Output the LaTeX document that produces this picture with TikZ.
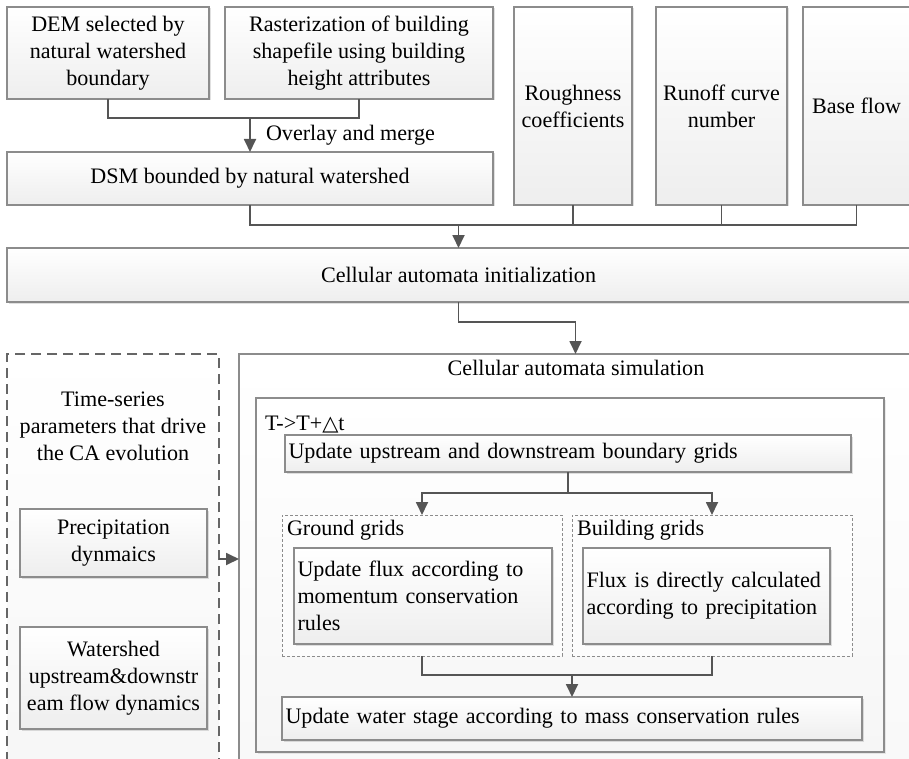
\documentclass[tikz,border=0pt]{standalone}
\usepackage{fontspec}
\setmainfont{Liberation Serif}
\newfontfamily\symfont{DejaVu Sans}
\usetikzlibrary{arrows.meta,shadows}
\definecolor{bordercol}{HTML}{8C8C8C}
\definecolor{linecol}{HTML}{555555}
\definecolor{boxbot}{HTML}{EEEEEE}
\definecolor{dashcol}{HTML}{666666}
\tikzset{
  basebox/.style={draw=bordercol, line width=1.1pt, top color=white, bottom color=boxbot,
    anchor=north west, outer sep=0pt, inner sep=0pt},
  solidbox/.style={basebox, drop shadow={shadow xshift=1.5pt, shadow yshift=-1.5pt, opacity=0.12, fill=black}},
  leftbox/.style={solidbox, align=left, inner xsep=3.5pt},
  bigdash/.style={draw=dashcol, line width=2pt, dash pattern=on 10pt off 6pt, top color=white,
    bottom color=gray!7, anchor=north west, outer sep=0pt, inner sep=0pt},
  smalldash/.style={draw=bordercol, line width=0.9pt, dash pattern=on 3pt off 2pt, fill=white,
    fill opacity=0.5, text opacity=1, anchor=north west, outer sep=0pt, inner sep=0pt},
  plain/.style={inner sep=0pt, outer sep=0pt},
  conn/.style={draw=linecol, line width=1.8pt},
  arr/.style={conn, -{Triangle[length=13pt,width=12pt]}}
}
\begin{document}
\begin{tikzpicture}[x=1pt, y=-1pt, font=\fontsize{22.1}{27}\selectfont]
\clip (0,0) rectangle (909,759);
% top row
\node[solidbox, align=center, minimum width=202pt, minimum height=92pt] (dem) at (7,7)
  {DEM selected by\\natural watershed\\boundary};
\node[solidbox, align=center, minimum width=268pt, minimum height=92pt] (ras) at (225,7)
  {Rasterization of building\\shapefile using building\\height attributes};
\node[solidbox, align=center, minimum width=486pt, minimum height=53pt] (dsm) at (7,152)
  {DSM bounded by natural watershed};
\node[solidbox, align=center, minimum width=118pt, minimum height=198pt] (rough) at (514,7)
  {Roughness\\coefficients};
\node[solidbox, align=center, minimum width=131pt, minimum height=198pt] (runoff) at (656,7)
  {Runoff curve\\number};
\node[solidbox, align=center, minimum width=107pt, minimum height=198pt] (base) at (803,7)
  {Base flow};
\node[solidbox, align=center, minimum width=903pt, minimum height=54pt] (ca) at (7,248)
  {Cellular automata initialization};
\node[plain, anchor=west] (ovl) at (266,135) {Overlay and merge};
% connectors top
\draw[conn] (dem.south) -- ++(0,19) -| (ras.south);
\coordinate (m1) at (250,118);
\draw[arr] (m1) -- (dsm.north);
\draw[conn] (dsm.south) -- ++(0,20) -| (base.south);
\draw[conn] (rough.south) -- ++(0,20);
\draw[conn] (runoff.south) -- ++(0,20);
\coordinate (m2) at (458.5,225);
\draw[arr] (m2) -- (ca.north);
% left dashed panel
\node[bigdash, minimum width=212pt, minimum height=426pt] (ts) at (7,354) {};
\node[plain, align=center] (tslbl) at (113,426) {Time-series\\parameters that drive\\the CA evolution};
\node[solidbox, align=center, minimum width=187pt, minimum height=68pt] (precip) at (20,509)
  {Precipitation\\dynmaics};
\node[solidbox, align=center, minimum width=187pt, minimum height=102pt] (wshed) at (20,627)
  {Watershed\\upstream\&downstr\\eam flow dynamics};
% simulation panel
\node[basebox, minimum width=673pt, minimum height=426pt, bottom color=gray!5] (sim) at (239,354) {};
\node[plain] (simlbl) at (576,368) {Cellular automata simulation};
\draw[arr] (ca.south) -- ++(0,20) -| (sim.north);
\coordinate (a1) at (219,559);
\draw[arr] (a1) -- (a1 -| sim.west);
\node[basebox, minimum width=628pt, minimum height=354pt, bottom color=gray!7,
  drop shadow={shadow xshift=1.5pt, shadow yshift=-1.5pt, opacity=0.08, fill=black}] (inner) at (256,398) {};
\node[plain, anchor=west] (tlbl) at (265,425) {T->T+{\symfont\fontsize{21}{24}\selectfont △}t};
\node[leftbox, text width=559pt, minimum height=37pt] (bound) at (285,435)
  {Update upstream and downstream boundary grids};
\node[smalldash, minimum width=280pt, minimum height=141pt] (gdash) at (282,515) {};
\node[smalldash, minimum width=280pt, minimum height=141pt] (bdash) at (572,515) {};
\node[plain, anchor=west] (glbl) at (287,530) {Ground grids};
\node[plain, anchor=west] (blbl) at (577,530) {Building grids};
\node[leftbox, text width=251pt, minimum height=96pt] (ginner) at (294,548)
  {Update flux according to\\momentum conservation\\rules};
\node[leftbox, text width=240pt, minimum height=96pt] (binner) at (583,548)
  {\mbox{Flux is directly calculated}\\according to precipitation};
\node[leftbox, text width=573pt, minimum height=43pt] (water) at (282,697)
  {Update water stage according to mass conservation rules};
% simulation connectors
\coordinate (m3) at (568,493);
\draw[conn] (bound.south) -- (m3);
\draw[arr] (m3) -| (gdash.north);
\draw[arr] (m3) -| (bdash.north);
\draw[conn] (gdash.south) -- ++(0,19) -| (bdash.south);
\coordinate (m4) at (572,675);
\draw[arr] (m4) -- (water.north);
\end{tikzpicture}
\end{document}
